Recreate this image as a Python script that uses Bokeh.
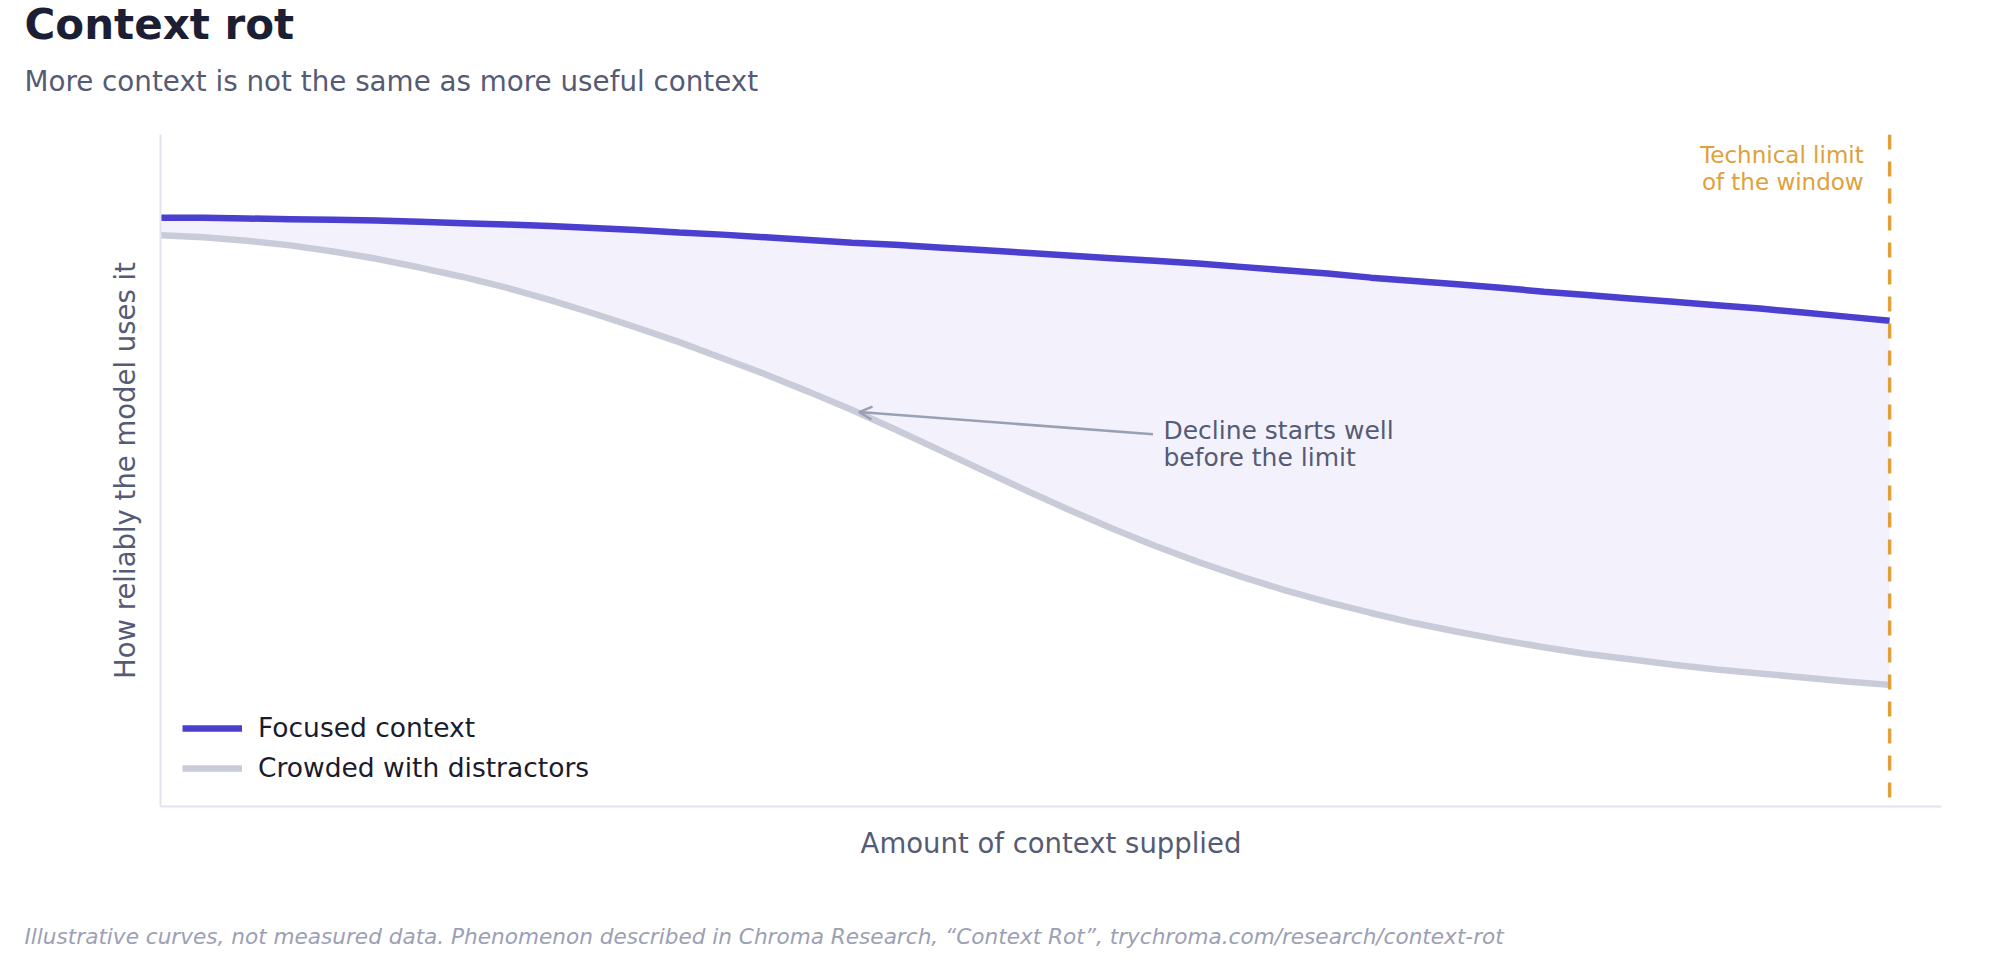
from bokeh.plotting import figure
from bokeh.layouts import column
from bokeh.models import (Label, Span, Arrow, OpenHead, Legend, LegendItem,
                          FixedTicker, Range1d)
from bokeh.core.properties import value
from bokeh.embed import file_html
from bokeh.resources import INLINE

# illustrative curves (x = share of the window, y = reliability)
context = [0, 2.5, 5, 7.5, 10, 12.5, 15, 17.5, 20, 22.5, 25, 27.5, 30, 32.5, 35, 37.5,
           40, 42.5, 45, 47.5, 50, 52.5, 55, 57.5, 60, 62.5, 65, 67.5, 70, 72.5, 75,
           77.5, 80, 82.5, 85, 87.5, 90, 92.5, 95, 97.5, 100]
focused = [0.876, 0.876, 0.875, 0.874, 0.873, 0.872, 0.870, 0.868, 0.866, 0.864, 0.861,
           0.858, 0.854, 0.851, 0.847, 0.843, 0.839, 0.836, 0.832, 0.828, 0.824,
           0.820, 0.816, 0.812, 0.808, 0.803, 0.798, 0.793, 0.787, 0.782, 0.777,
           0.772, 0.766, 0.761, 0.756, 0.751, 0.746, 0.741, 0.735, 0.729, 0.723]
crowded = [0.850, 0.847, 0.842, 0.835, 0.826, 0.815, 0.802, 0.788, 0.772, 0.754, 0.734,
           0.713, 0.691, 0.667, 0.643, 0.617, 0.590, 0.561, 0.531, 0.501, 0.471,
           0.442, 0.414, 0.388, 0.364, 0.342, 0.322, 0.304, 0.288, 0.273, 0.260,
           0.248, 0.237, 0.227, 0.219, 0.211, 0.204, 0.198, 0.192, 0.186, 0.181]
window_limit = 100

title = "Context rot"
subtitle = "More context is not the same as more useful context"
footnote = ("Illustrative curves, not measured data. Phenomenon described in "
            "Chroma Research, \u201cContext Rot\u201d, trychroma.com/research/context-rot")

FONT = "DejaVu Sans"
SLATE = "#555b75"
W = 2000


def text_strip(height):
    # a bare pixel-space strip for header / footer text (y runs downwards)
    s = figure(width=W, height=height, output_backend="svg", toolbar_location=None,
               x_range=Range1d(0, W), y_range=Range1d(height, 0),
               x_axis_type=None, y_axis_type=None, title_location=None,
               min_border_left=0, min_border_right=0, min_border_top=0, min_border_bottom=0,
               background_fill_color="white", border_fill_color="white")
    s.frame_align = False
    s.outline_line_color = None
    s.grid.visible = False
    return s


header = text_strip(120)
header.text(x=[24], y=[23.5], text=[title], text_font=value(FONT), text_font_style="bold",
            text_font_size="42px", text_color="#1c1e33", text_baseline="middle",
            text_line_height=1.0)
header.text(x=[24], y=[81.4], text=[subtitle], text_font=value(FONT),
            text_font_size="27.75px", text_color=SLATE, text_baseline="middle",
            text_line_height=1.0)

p = figure(width=W, height=780, output_backend="svg", toolbar_location=None,
           x_range=Range1d(0, 103), y_range=Range1d(0, 1), title_location=None,
           min_border_left=160, min_border_right=59,
           min_border_top=14, min_border_bottom=94,
           background_fill_color="white", border_fill_color="white")
p.frame_align = False
p.outline_line_color = None
p.grid.visible = False

for ax in (p.xaxis, p.yaxis):
    ax.ticker = FixedTicker(ticks=[])
    ax.major_tick_out = 0
    ax.major_tick_in = 0
    ax.minor_tick_out = 0
    ax.axis_line_color = "#e2e3ef"
    ax.axis_line_width = 2
    ax.axis_label_text_font = FONT
    ax.axis_label_text_font_style = "normal"
    ax.axis_label_text_font_size = "27.5px"
    ax.axis_label_text_color = SLATE
    ax.axis_label_standoff = 20
p.xaxis.axis_label = "Amount of context supplied"
p.yaxis.axis_label = "How reliably the model uses it"

# gap between the two curves
p.varea(x=context, y1=crowded, y2=focused, fill_color="#f3f2fc")

r_crowded = p.line(context, crowded, line_color="#c9cbd8", line_width=6.5)
r_focused = p.line(context, focused, line_color="#4b3fcf", line_width=6.5)

p.add_layout(Span(location=window_limit, dimension="height", line_color="#e0a03a",
                  line_width=3.5, line_dash="15 12"))

p.add_layout(Label(x=98.5, y=0.949, text="Technical limit\nof the window",
                   text_align="right", text_baseline="middle", text_font=FONT,
                   text_font_size="23px", text_color="#e0a03a", text_line_height=1.05))

p.add_layout(Arrow(x_start=57.4, y_start=0.554, x_end=40.4, y_end=0.587,
                   line_color="#9aa0b3", line_width=2.5,
                   end=OpenHead(size=13, line_color="#9aa0b3", line_width=2.5)))
p.add_layout(Label(x=58.0, y=0.540, text="Decline starts well\nbefore the limit",
                   text_align="left", text_baseline="middle", text_font=FONT,
                   text_font_size="25px", text_color=SLATE, text_line_height=0.93))

legend = Legend(items=[LegendItem(label="Focused context", renderers=[r_focused]),
                       LegendItem(label="Crowded with distractors", renderers=[r_crowded])],
                location=(22, 23), margin=0, padding=0, spacing=9,
                glyph_width=60, glyph_height=30, label_height=30, label_standoff=16,
                label_text_font=FONT, label_text_font_size="26.5px",
                label_text_color="#1a1b2e", border_line_color=None,
                background_fill_alpha=0)
p.add_layout(legend)

footer = text_strip(60)
footer.text(x=[24], y=[35.5], text=[footnote], text_font=value(FONT),
            text_font_style="italic", text_font_size="21.6px", text_color="#9ca0b4",
            text_baseline="middle", text_line_height=1.0)

layout = column(header, p, footer, spacing=0)
open("out.html", "w").write(file_html(layout, INLINE))
